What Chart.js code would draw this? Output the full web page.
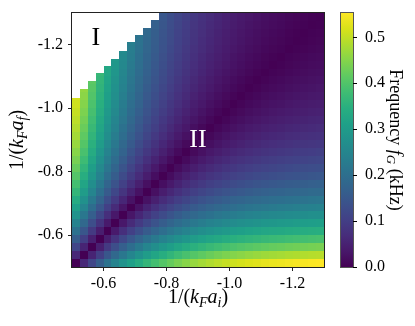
<!DOCTYPE html>
<html>
<head>
<meta charset="utf-8">
<script src="https://cdn.jsdelivr.net/npm/chart.js@4.4.1/dist/chart.umd.min.js"></script>
<style>
  html, body { margin: 0; padding: 0; background: #fff; }
  canvas { display: block; }
</style>
</head>
<body>
<canvas id="quenchMap" width="415" height="326"></canvas>
<script>
// grid of the quench map: initial (x) and final (y) interaction, cell centres
const aiCenters = [-0.5125, -0.5375, -0.5625, -0.5875, -0.6125, -0.6375, -0.6625, -0.6875,
  -0.7125, -0.7375, -0.7625, -0.7875, -0.8125, -0.8375, -0.8625, -0.8875,
  -0.9125, -0.9375, -0.9625, -0.9875, -1.0125, -1.0375, -1.0625, -1.0875,
  -1.1125, -1.1375, -1.1625, -1.1875, -1.2125, -1.2375, -1.2625, -1.2875];
const afCenters = [-0.5125, -0.5375, -0.5625, -0.5875, -0.6125, -0.6375, -0.6625, -0.6875,
  -0.7125, -0.7375, -0.7625, -0.7875, -0.8125, -0.8375, -0.8625, -0.8875,
  -0.9125, -0.9375, -0.9625, -0.9875, -1.0125, -1.0375, -1.0625, -1.0875,
  -1.1125, -1.1375, -1.1625, -1.1875, -1.2125, -1.2375, -1.2625, -1.2875];

// frequency f_G in kHz, one row per afCenters entry (bottom row first), null = region I
const freq = [
  [0, 0.061, 0.115, 0.163, 0.207, 0.245, 0.280, 0.311, 0.338, 0.363, 0.385, 0.405, 0.422, 0.438, 0.452, 0.465, 0.476, 0.486, 0.495, 0.503, 0.510, 0.516, 0.522, 0.527, 0.532, 0.536, 0.539, 0.543, 0.546, 0.548, 0.551, 0.553],
  [0.061, 0, 0.054, 0.102, 0.146, 0.184, 0.219, 0.250, 0.277, 0.302, 0.324, 0.344, 0.361, 0.377, 0.391, 0.404, 0.415, 0.425, 0.434, 0.442, 0.449, 0.455, 0.461, 0.466, 0.471, 0.475, 0.478, 0.482, 0.485, 0.487, 0.490, 0.492],
  [0.115, 0.054, 0, 0.048, 0.092, 0.130, 0.165, 0.196, 0.223, 0.248, 0.270, 0.290, 0.307, 0.323, 0.337, 0.350, 0.361, 0.371, 0.380, 0.388, 0.395, 0.401, 0.407, 0.412, 0.417, 0.421, 0.424, 0.428, 0.431, 0.433, 0.436, 0.438],
  [0.163, 0.102, 0.048, 0, 0.044, 0.082, 0.117, 0.148, 0.175, 0.200, 0.222, 0.242, 0.259, 0.275, 0.289, 0.302, 0.313, 0.323, 0.332, 0.340, 0.347, 0.353, 0.359, 0.364, 0.369, 0.373, 0.376, 0.380, 0.383, 0.385, 0.388, 0.390],
  [0.207, 0.146, 0.092, 0.044, 0, 0.038, 0.073, 0.104, 0.131, 0.156, 0.178, 0.198, 0.215, 0.231, 0.245, 0.258, 0.269, 0.279, 0.288, 0.296, 0.303, 0.309, 0.315, 0.320, 0.325, 0.329, 0.332, 0.336, 0.339, 0.341, 0.344, 0.346],
  [0.245, 0.184, 0.130, 0.082, 0.038, 0, 0.035, 0.066, 0.093, 0.118, 0.140, 0.160, 0.177, 0.193, 0.207, 0.220, 0.231, 0.241, 0.250, 0.258, 0.265, 0.271, 0.277, 0.282, 0.287, 0.291, 0.294, 0.298, 0.301, 0.303, 0.306, 0.308],
  [0.280, 0.219, 0.165, 0.117, 0.073, 0.035, 0, 0.031, 0.058, 0.083, 0.105, 0.125, 0.142, 0.158, 0.172, 0.185, 0.196, 0.206, 0.215, 0.223, 0.230, 0.236, 0.242, 0.247, 0.252, 0.256, 0.259, 0.263, 0.266, 0.268, 0.271, 0.273],
  [0.311, 0.250, 0.196, 0.148, 0.104, 0.066, 0.031, 0, 0.027, 0.052, 0.074, 0.094, 0.111, 0.127, 0.141, 0.154, 0.165, 0.175, 0.184, 0.192, 0.199, 0.205, 0.211, 0.216, 0.221, 0.225, 0.228, 0.232, 0.235, 0.237, 0.240, 0.242],
  [0.338, 0.277, 0.223, 0.175, 0.131, 0.093, 0.058, 0.027, 0, 0.025, 0.047, 0.067, 0.084, 0.100, 0.114, 0.127, 0.138, 0.148, 0.157, 0.165, 0.172, 0.178, 0.184, 0.189, 0.194, 0.198, 0.201, 0.205, 0.208, 0.210, 0.213, 0.215],
  [0.363, 0.302, 0.248, 0.200, 0.156, 0.118, 0.083, 0.052, 0.025, 0, 0.022, 0.042, 0.059, 0.075, 0.089, 0.102, 0.113, 0.123, 0.132, 0.140, 0.147, 0.153, 0.159, 0.164, 0.169, 0.173, 0.176, 0.180, 0.183, 0.185, 0.188, 0.190],
  [0.385, 0.324, 0.270, 0.222, 0.178, 0.140, 0.105, 0.074, 0.047, 0.022, 0, 0.020, 0.037, 0.053, 0.067, 0.080, 0.091, 0.101, 0.110, 0.118, 0.125, 0.131, 0.137, 0.142, 0.147, 0.151, 0.154, 0.158, 0.161, 0.163, 0.166, 0.168],
  [0.405, 0.344, 0.290, 0.242, 0.198, 0.160, 0.125, 0.094, 0.067, 0.042, 0.020, 0, 0.017, 0.033, 0.047, 0.060, 0.071, 0.081, 0.090, 0.098, 0.105, 0.111, 0.117, 0.122, 0.127, 0.131, 0.134, 0.138, 0.141, 0.143, 0.146, 0.148],
  [0.422, 0.361, 0.307, 0.259, 0.215, 0.177, 0.142, 0.111, 0.084, 0.059, 0.037, 0.017, 0, 0.016, 0.030, 0.043, 0.054, 0.064, 0.073, 0.081, 0.088, 0.094, 0.100, 0.105, 0.110, 0.114, 0.117, 0.121, 0.124, 0.126, 0.129, 0.131],
  [0.438, 0.377, 0.323, 0.275, 0.231, 0.193, 0.158, 0.127, 0.100, 0.075, 0.053, 0.033, 0.016, 0, 0.014, 0.027, 0.038, 0.048, 0.057, 0.065, 0.072, 0.078, 0.084, 0.089, 0.094, 0.098, 0.101, 0.105, 0.108, 0.110, 0.113, 0.115],
  [0.452, 0.391, 0.337, 0.289, 0.245, 0.207, 0.172, 0.141, 0.114, 0.089, 0.067, 0.047, 0.030, 0.014, 0, 0.013, 0.024, 0.034, 0.043, 0.051, 0.058, 0.064, 0.070, 0.075, 0.080, 0.084, 0.087, 0.091, 0.094, 0.096, 0.099, 0.101],
  [0.465, 0.404, 0.350, 0.302, 0.258, 0.220, 0.185, 0.154, 0.127, 0.102, 0.080, 0.060, 0.043, 0.027, 0.013, 0, 0.011, 0.021, 0.030, 0.038, 0.045, 0.051, 0.057, 0.062, 0.067, 0.071, 0.074, 0.078, 0.081, 0.083, 0.086, 0.088],
  [0.476, 0.415, 0.361, 0.313, 0.269, 0.231, 0.196, 0.165, 0.138, 0.113, 0.091, 0.071, 0.054, 0.038, 0.024, 0.011, 0, 0.010, 0.019, 0.027, 0.034, 0.040, 0.046, 0.051, 0.056, 0.060, 0.063, 0.067, 0.070, 0.072, 0.075, 0.077],
  [0.486, 0.425, 0.371, 0.323, 0.279, 0.241, 0.206, 0.175, 0.148, 0.123, 0.101, 0.081, 0.064, 0.048, 0.034, 0.021, 0.010, 0, 0.009, 0.017, 0.024, 0.030, 0.036, 0.041, 0.046, 0.050, 0.053, 0.057, 0.060, 0.062, 0.065, 0.067],
  [0.495, 0.434, 0.380, 0.332, 0.288, 0.250, 0.215, 0.184, 0.157, 0.132, 0.110, 0.090, 0.073, 0.057, 0.043, 0.030, 0.019, 0.009, 0, 0.008, 0.015, 0.021, 0.027, 0.032, 0.037, 0.041, 0.044, 0.048, 0.051, 0.053, 0.056, 0.058],
  [0.503, 0.442, 0.388, 0.340, 0.296, 0.258, 0.223, 0.192, 0.165, 0.140, 0.118, 0.098, 0.081, 0.065, 0.051, 0.038, 0.027, 0.017, 0.008, 0, 0.007, 0.013, 0.019, 0.024, 0.029, 0.033, 0.036, 0.040, 0.043, 0.045, 0.048, 0.050],
  [0.510, 0.449, 0.395, 0.347, 0.303, 0.265, 0.230, 0.199, 0.172, 0.147, 0.125, 0.105, 0.088, 0.072, 0.058, 0.045, 0.034, 0.024, 0.015, 0.007, 0, 0.006, 0.012, 0.017, 0.022, 0.026, 0.029, 0.033, 0.036, 0.038, 0.041, 0.043],
  [0.516, 0.455, 0.401, 0.353, 0.309, 0.271, 0.236, 0.205, 0.178, 0.153, 0.131, 0.111, 0.094, 0.078, 0.064, 0.051, 0.040, 0.030, 0.021, 0.013, 0.006, 0, 0.006, 0.011, 0.016, 0.020, 0.023, 0.027, 0.030, 0.032, 0.035, 0.037],
  [null, 0.461, 0.407, 0.359, 0.315, 0.277, 0.242, 0.211, 0.184, 0.159, 0.137, 0.117, 0.100, 0.084, 0.070, 0.057, 0.046, 0.036, 0.027, 0.019, 0.012, 0.006, 0, 0.005, 0.010, 0.014, 0.017, 0.021, 0.024, 0.026, 0.029, 0.031],
  [null, null, 0.412, 0.364, 0.320, 0.282, 0.247, 0.216, 0.189, 0.164, 0.142, 0.122, 0.105, 0.089, 0.075, 0.062, 0.051, 0.041, 0.032, 0.024, 0.017, 0.011, 0.005, 0, 0.005, 0.009, 0.012, 0.016, 0.019, 0.021, 0.024, 0.026],
  [null, null, null, 0.369, 0.325, 0.287, 0.252, 0.221, 0.194, 0.169, 0.147, 0.127, 0.110, 0.094, 0.080, 0.067, 0.056, 0.046, 0.037, 0.029, 0.022, 0.016, 0.010, 0.005, 0, 0.004, 0.007, 0.011, 0.014, 0.016, 0.019, 0.021],
  [null, null, null, null, 0.329, 0.291, 0.256, 0.225, 0.198, 0.173, 0.151, 0.131, 0.114, 0.098, 0.084, 0.071, 0.060, 0.050, 0.041, 0.033, 0.026, 0.020, 0.014, 0.009, 0.004, 0, 0.003, 0.007, 0.010, 0.012, 0.015, 0.017],
  [null, null, null, null, null, 0.294, 0.259, 0.228, 0.201, 0.176, 0.154, 0.134, 0.117, 0.101, 0.087, 0.074, 0.063, 0.053, 0.044, 0.036, 0.029, 0.023, 0.017, 0.012, 0.007, 0.003, 0, 0.004, 0.007, 0.009, 0.012, 0.014],
  [null, null, null, null, null, null, 0.263, 0.232, 0.205, 0.180, 0.158, 0.138, 0.121, 0.105, 0.091, 0.078, 0.067, 0.057, 0.048, 0.040, 0.033, 0.027, 0.021, 0.016, 0.011, 0.007, 0.004, 0, 0.003, 0.005, 0.008, 0.010],
  [null, null, null, null, null, null, null, 0.235, 0.208, 0.183, 0.161, 0.141, 0.124, 0.108, 0.094, 0.081, 0.070, 0.060, 0.051, 0.043, 0.036, 0.030, 0.024, 0.019, 0.014, 0.010, 0.007, 0.003, 0, 0.002, 0.005, 0.007],
  [null, null, null, null, null, null, null, null, 0.210, 0.185, 0.163, 0.143, 0.126, 0.110, 0.096, 0.083, 0.072, 0.062, 0.053, 0.045, 0.038, 0.032, 0.026, 0.021, 0.016, 0.012, 0.009, 0.005, 0.002, 0, 0.003, 0.005],
  [null, null, null, null, null, null, null, null, null, 0.188, 0.166, 0.146, 0.129, 0.113, 0.099, 0.086, 0.075, 0.065, 0.056, 0.048, 0.041, 0.035, 0.029, 0.024, 0.019, 0.015, 0.012, 0.008, 0.005, 0.003, 0, 0.002],
  [null, null, null, null, null, null, null, null, null, null, 0.168, 0.148, 0.131, 0.115, 0.101, 0.088, 0.077, 0.067, 0.058, 0.050, 0.043, 0.037, 0.031, 0.026, 0.021, 0.017, 0.014, 0.010, 0.007, 0.005, 0.002, 0]
];

// upper edge of the coloured area (region I above it) for the first columns
const regionIEdge = [-1.0325, -1.06, -1.085, -1.11, -1.1325, -1.155, -1.18, -1.2075, -1.23, -1.2525, -1.2775];

const xTicks = [-0.6, -0.8, -1.0, -1.2];
const yTicks = [-0.6, -0.8, -1.0, -1.2];
const cbTicks = [0.0, 0.1, 0.2, 0.3, 0.4, 0.5];
const fMax = 0.553;

const regionLabels = [
  { text: 'I', x: -0.576, y: -1.222, color: '#000' },
  { text: 'II', x: -0.9, y: -0.9, color: '#fff' }
];

const SERIF = '"Liberation Serif", "DejaVu Serif", serif';
const VIRIDIS = ['#440154', '#48186a', '#472d7b', '#424086', '#3b528b', '#33638d', '#2c728e', '#26828e',
  '#21918c', '#1fa088', '#28ae80', '#3fbc73', '#5ec962', '#84d44b', '#addc30', '#d8e219', '#fde725'];

function hexRgb(h) {
  return [1, 3, 5].map(k => parseInt(h.slice(k, k + 2), 16));
}
function viridis(t) {
  t = Math.max(0, Math.min(1, t));
  const p = t * (VIRIDIS.length - 1);
  const k = Math.min(VIRIDIS.length - 2, Math.floor(p));
  const f = p - k;
  const a = hexRgb(VIRIDIS[k]), b = hexRgb(VIRIDIS[k + 1]);
  const c = a.map((v, n) => Math.round(v + (b[n] - v) * f));
  return `rgb(${c[0]},${c[1]},${c[2]})`;
}

// pixel edges of the cells (n + 1 values), shared between neighbours so no seams
function pixelEdges(centers, scale) {
  const n = centers.length;
  const edges = [centers[0] - (centers[1] - centers[0]) / 2];
  for (let k = 1; k < n; k++) edges.push((centers[k - 1] + centers[k]) / 2);
  edges.push(centers[n - 1] + (centers[n - 1] - centers[n - 2]) / 2);
  return edges.map(v => Math.round(scale.getPixelForValue(v)));
}

// text with italic letters and subscripts, centred on (cx, cy)
function richText(ctx, runs, cx, cy, size, angle) {
  ctx.save();
  ctx.translate(cx, cy);
  ctx.rotate(angle);
  const fontOf = r => `${r.it ? 'italic ' : ''}${r.sub ? Math.round(size * 0.7) : size}px ${SERIF}`;
  let w = 0;
  runs.forEach(r => { ctx.font = fontOf(r); w += ctx.measureText(r.t).width; });
  let x = -w / 2;
  ctx.fillStyle = '#000';
  ctx.textBaseline = 'alphabetic';
  ctx.textAlign = 'left';
  runs.forEach(r => {
    ctx.font = fontOf(r);
    ctx.fillText(r.t, x, size * 0.32 + (r.sub ? size * 0.2 : 0));
    x += ctx.measureText(r.t).width;
  });
  ctx.restore();
}

// keep tick-label overhang from shrinking the plot area
function noPad(s) {
  s.paddingTop = 0; s.paddingBottom = 0; s.paddingLeft = 0; s.paddingRight = 0;
}

const heatmapPlugin = {
  id: 'heatmap',
  beforeDatasetsDraw(chart) {
    const { ctx, chartArea: a, scales: { x, y } } = chart;
    const xe = pixelEdges(aiCenters, x);
    const ye = pixelEdges(afCenters, y);
    ctx.save();
    ctx.beginPath();
    ctx.rect(a.left, a.top, a.width, a.height);
    ctx.clip();
    freq.forEach((row, j) => row.forEach((v, i) => {
      if (v === null) return;
      ctx.fillStyle = viridis(v / fMax);
      ctx.fillRect(Math.min(xe[i], xe[i + 1]), Math.min(ye[j], ye[j + 1]),
        Math.abs(xe[i + 1] - xe[i]), Math.abs(ye[j + 1] - ye[j]));
    }));
    // region I (no oscillation) stays blank
    ctx.fillStyle = '#fff';
    regionIEdge.forEach((edge, i) => {
      const yb = Math.round(y.getPixelForValue(edge));
      ctx.fillRect(Math.min(xe[i], xe[i + 1]), a.top, Math.abs(xe[i + 1] - xe[i]), yb - a.top);
    });
    ctx.restore();
  },
  afterDraw(chart) {
    const { ctx, chartArea: a, scales: { x, y, cb } } = chart;
    ctx.save();
    // frame
    ctx.strokeStyle = '#222';
    ctx.lineWidth = 1;
    ctx.strokeRect(a.left - 0.5, a.top - 0.5, a.width + 1, a.height + 1);

    // region labels
    ctx.font = `26px ${SERIF}`;
    ctx.textAlign = 'center';
    ctx.textBaseline = 'middle';
    regionLabels.forEach(l => {
      ctx.fillStyle = l.color;
      ctx.fillText(l.text, x.getPixelForValue(l.x), y.getPixelForValue(l.y));
    });

    // colour bar
    const cbLeft = 341, cbRight = 353;
    const yb = cb.getPixelForValue(0), yt = cb.getPixelForValue(fMax);
    const grad = ctx.createLinearGradient(0, yb, 0, yt);
    VIRIDIS.forEach((c, k) => grad.addColorStop(k / (VIRIDIS.length - 1), c));
    ctx.fillStyle = grad;
    ctx.fillRect(cbLeft, yt, cbRight - cbLeft, yb - yt);
    ctx.strokeStyle = '#555';
    ctx.strokeRect(cbLeft - 0.5, yt - 0.5, cbRight - cbLeft + 1, yb - yt + 1);
    ctx.strokeStyle = '#000';
    ctx.beginPath();
    cbTicks.forEach(v => {
      const py = Math.round(cb.getPixelForValue(v)) + 0.5;
      ctx.moveTo(cbRight, py);
      ctx.lineTo(cbRight + 4, py);
    });
    ctx.stroke();
    ctx.restore();

    // axis titles
    const cy = (a.top + a.bottom) / 2;
    richText(ctx, [{ t: '1/(' }, { t: 'k', it: true }, { t: 'F', it: true, sub: true }, { t: 'a', it: true },
      { t: 'i', it: true, sub: true }, { t: ')' }], (a.left + a.right) / 2, 297, 20, 0);
    richText(ctx, [{ t: '1/(' }, { t: 'k', it: true }, { t: 'F', it: true, sub: true }, { t: 'a', it: true },
      { t: 'f', it: true, sub: true }, { t: ')' }], 17, cy, 20, -Math.PI / 2);
    richText(ctx, [{ t: 'Frequency ' }, { t: 'f', it: true }, { t: 'G', it: true, sub: true }, { t: ' (kHz)' }],
      396, cy, 18, Math.PI / 2);
  }
};

const tickFont = { family: SERIF, size: 16 };

new Chart(document.getElementById('quenchMap'), {
  type: 'scatter',
  data: { datasets: [{ label: 'f_G', data: [], pointRadius: 0 }] },
  options: {
    responsive: false,
    animation: false,
    events: [],
    layout: { padding: { top: 13, left: 0, right: 0, bottom: 0 }, autoPadding: false },
    plugins: { legend: { display: false }, tooltip: { enabled: false } },
    scales: {
      x: {
        type: 'linear', position: 'bottom', reverse: true, min: -1.3, max: -0.5,
        afterBuildTicks: s => { s.ticks = xTicks.map(v => ({ value: v })); },
        afterFit: s => { s.height = 59; noPad(s); },
        grid: { drawOnChartArea: false, tickLength: 4, color: '#222' },
        border: { display: false },
        ticks: { font: tickFont, color: '#000', padding: 3, maxRotation: 0, autoSkip: false, callback: v => v.toFixed(1) }
      },
      y: {
        type: 'linear', position: 'left', reverse: true, min: -1.3, max: -0.5,
        afterBuildTicks: s => { s.ticks = yTicks.map(v => ({ value: v })); },
        afterFit: s => { s.width = 72; noPad(s); },
        grid: { drawOnChartArea: false, tickLength: 4, color: '#222' },
        border: { display: false },
        ticks: { font: tickFont, color: '#000', padding: 5, autoSkip: false, callback: v => v.toFixed(1) }
      },
      cb: {
        type: 'linear', position: 'right', min: 0, max: fMax,
        afterBuildTicks: s => { s.ticks = cbTicks.map(v => ({ value: v })); },
        afterFit: s => { s.width = 91; noPad(s); },
        grid: { display: false },
        border: { display: false },
        ticks: { font: tickFont, color: '#000', padding: 33, autoSkip: false, callback: v => v.toFixed(1) }
      }
    }
  },
  plugins: [heatmapPlugin]
});
</script>
</body>
</html>
